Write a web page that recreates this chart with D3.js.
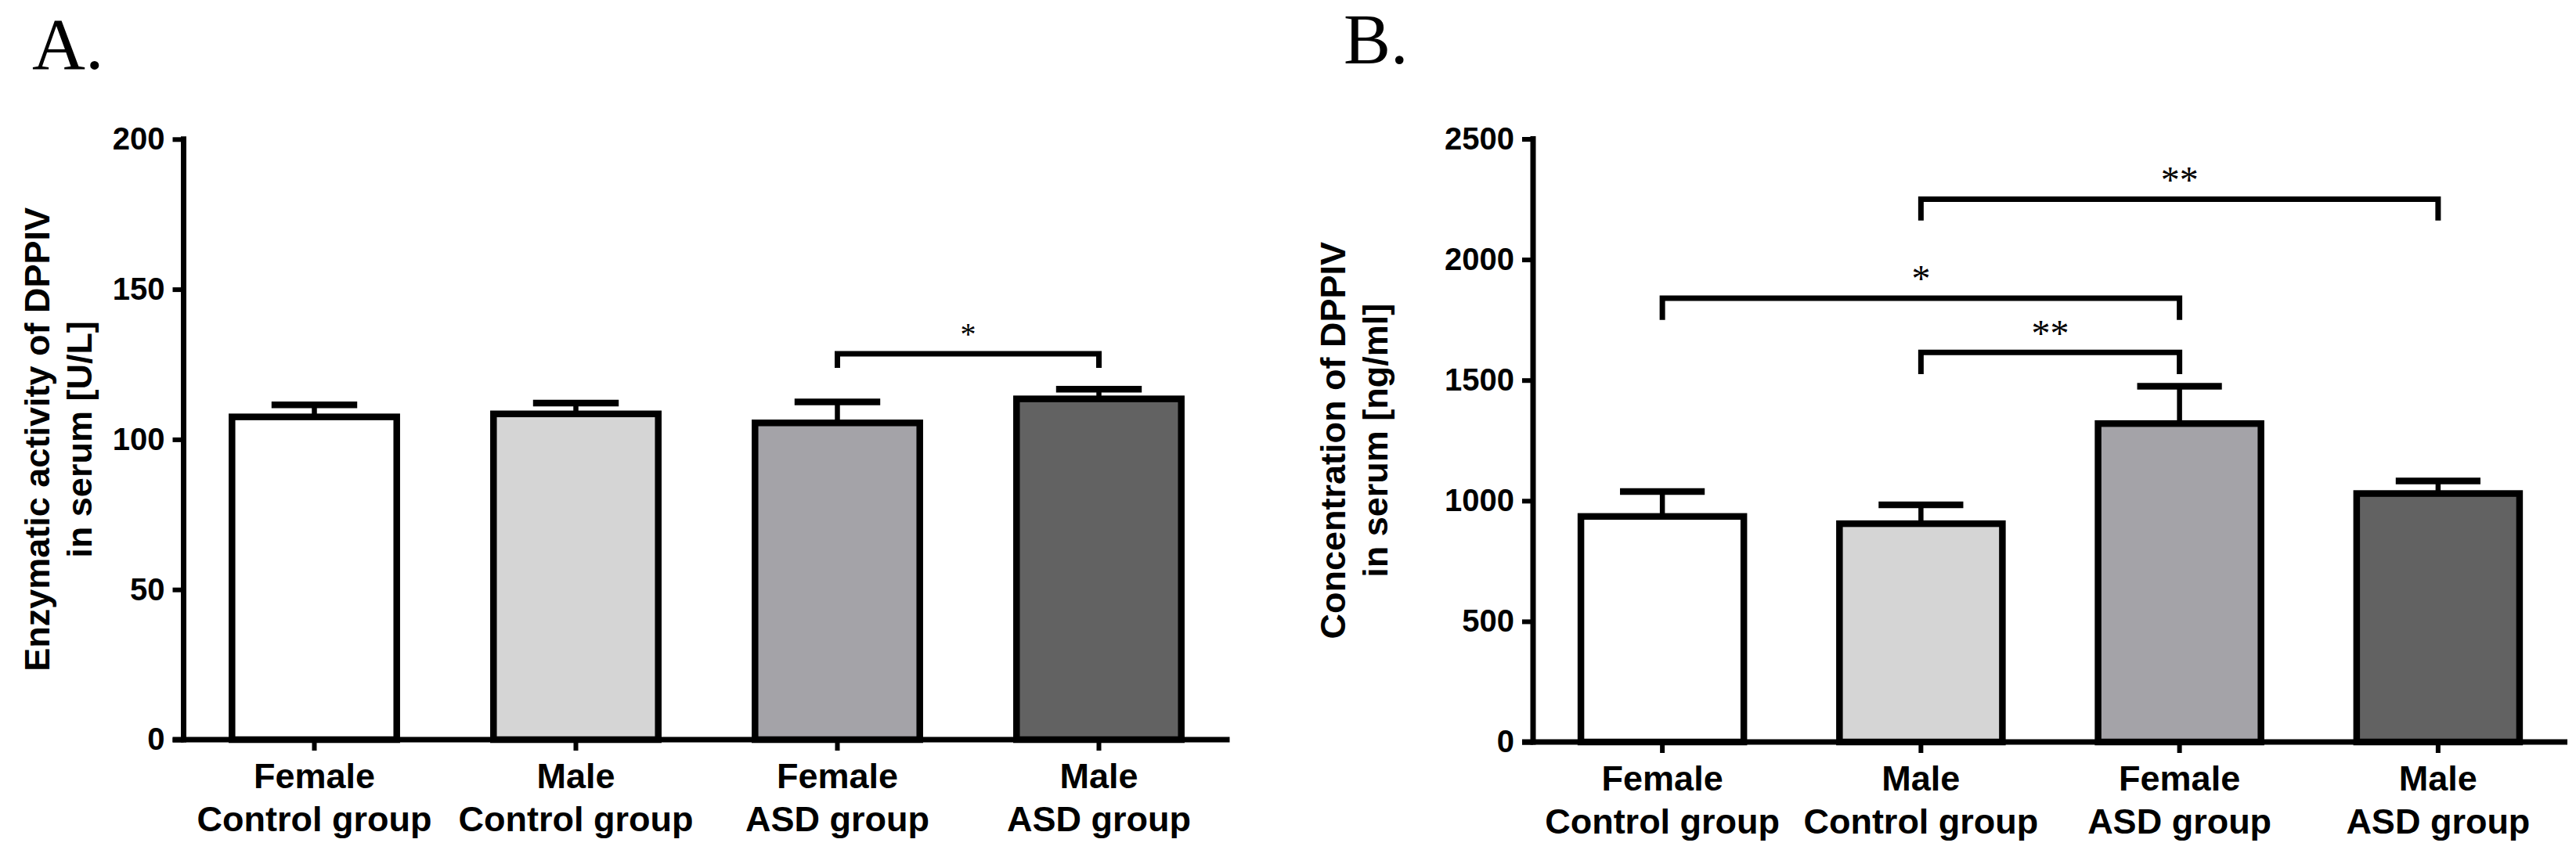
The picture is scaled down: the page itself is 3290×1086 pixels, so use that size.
<!DOCTYPE html>
<html>
<head>
<meta charset="utf-8">
<script src="https://cdn.jsdelivr.net/npm/d3@7/dist/d3.min.js"></script>
<style>
  html, body { margin: 0; padding: 0; background: #fff; }
  svg { display: block; }
</style>
</head>
<body>
<svg id="chart" width="3290" height="1086"></svg>
<script>
// ---------------- data ----------------
const categoryLine1 = ["Female", "Male", "Female", "Male"];
const categoryLine2 = ["Control group", "Control group", "ASD group", "ASD group"];

// Panel A: enzymatic activity (U/L)
const activityMean = [107.5, 108.5, 105.5, 113.5];
const activitySem  = [4.0, 3.6, 7.0, 3.2];
const activityTicks = [0, 50, 100, 150, 200];
const activityBrackets = [
  { from: 2, to: 3, level: 128.5, tip: 123.8, label: "*" }
];

// Panel B: concentration (ng/ml)
const concentrationMean = [935, 905, 1320, 1030];
const concentrationSem  = [103, 78, 155, 52];
const concentrationTicks = [0, 500, 1000, 1500, 2000, 2500];
const concentrationBrackets = [
  { from: 1, to: 3, level: 2250, tip: 2162, label: "**" },
  { from: 0, to: 2, level: 1840, tip: 1750, label: "*" },
  { from: 1, to: 2, level: 1615, tip: 1525, label: "**" }
];

const barFill = ["#ffffff", "#d5d5d5", "#a4a3a8", "#626262"];

// ---------------- drawing ----------------
const svg = d3.select("#chart");
const SANS = "'Liberation Sans', Arial, Helvetica, sans-serif";
const SERIF = "'Liberation Serif', 'Times New Roman', serif";

function drawPanel(cfg) {
  const g = svg.append("g");
  const n = categoryLine1.length;

  const x = d3.scaleBand()
    .domain(d3.range(n))
    .range(cfg.xRange)
    .paddingInner(0.37)
    .paddingOuter(0.185);

  const y = d3.scaleLinear()
    .domain([cfg.ticks[0], cfg.ticks[cfg.ticks.length - 1]])
    .range(cfg.yRange);

  const tickLen = 14;
  const axisW = 7;

  // bars
  g.selectAll("rect.bar")
    .data(cfg.mean)
    .join("rect")
    .attr("class", "bar")
    .attr("x", (d, i) => x(i))
    .attr("width", x.bandwidth())
    .attr("y", d => y(d))
    .attr("height", d => y(0) - y(d))
    .attr("fill", (d, i) => barFill[i])
    .attr("stroke", "#000")
    .attr("stroke-width", 8.5);

  // error bars (upper only)
  const capW = x.bandwidth() * 0.52;
  cfg.mean.forEach((m, i) => {
    const cx = x(i) + x.bandwidth() / 2;
    g.append("line")
      .attr("x1", cx).attr("x2", cx)
      .attr("y1", y(m)).attr("y2", y(m + cfg.sem[i]))
      .attr("stroke", "#000").attr("stroke-width", 6.5);
    g.append("line")
      .attr("x1", cx - capW / 2).attr("x2", cx + capW / 2)
      .attr("y1", y(m + cfg.sem[i])).attr("y2", y(m + cfg.sem[i]))
      .attr("stroke", "#000").attr("stroke-width", 8.5);
  });

  // y axis
  const yAxis = d3.axisLeft(y)
    .tickValues(cfg.ticks)
    .tickSize(tickLen)
    .tickSizeOuter(0)
    .tickPadding(10)
    .tickFormat(d3.format("d"));
  const ya = g.append("g")
    .attr("transform", `translate(${cfg.xRange[0]},0)`)
    .call(yAxis);
  ya.select(".domain").attr("stroke", "#000").attr("stroke-width", axisW)
    .attr("d", `M0,${y(0) + axisW / 2}V${y(cfg.ticks[cfg.ticks.length - 1]) - axisW / 2}`);
  ya.selectAll(".tick line").attr("stroke", "#000").attr("stroke-width", 6);
  ya.selectAll(".tick text")
    .attr("fill", "#000")
    .style("font-family", SANS)
    .style("font-weight", "bold")
    .style("font-size", "40px");

  // x axis
  const xAxis = d3.axisBottom(x)
    .tickSize(tickLen)
    .tickSizeOuter(0)
    .tickFormat(() => "");
  const xa = g.append("g")
    .attr("transform", `translate(0,${y(0)})`)
    .call(xAxis);
  xa.select(".domain").remove();
  xa.selectAll(".tick line").attr("stroke", "#000").attr("stroke-width", 6);
  g.append("line")
    .attr("x1", cfg.xRange[0] - tickLen).attr("x2", cfg.xRange[1])
    .attr("y1", y(0)).attr("y2", y(0))
    .attr("stroke", "#000").attr("stroke-width", axisW);

  // category labels
  const lab = g.append("g")
    .style("font-family", SANS)
    .style("font-weight", "bold")
    .style("font-size", "45px")
    .attr("text-anchor", "middle")
    .attr("fill", "#000");
  categoryLine1.forEach((t, i) => {
    const cx = x(i) + x.bandwidth() / 2;
    lab.append("text").attr("x", cx).attr("y", y(0) + 62).text(t);
    lab.append("text").attr("x", cx).attr("y", y(0) + 117).text(categoryLine2[i]);
  });

  // y axis title (two lines)
  const cy = (cfg.yRange[0] + cfg.yRange[1]) / 2;
  const tt = g.append("g")
    .style("font-family", SANS)
    .style("font-weight", "bold")
    .style("font-size", "45px")
    .attr("text-anchor", "middle")
    .attr("fill", "#000");
  tt.append("text")
    .attr("transform", `translate(${cfg.titleX[0]},${cy}) rotate(-90)`)
    .text(cfg.title[0]);
  tt.append("text")
    .attr("transform", `translate(${cfg.titleX[1]},${cy}) rotate(-90)`)
    .text(cfg.title[1]);

  // significance brackets
  cfg.brackets.forEach(b => {
    const x1 = x(b.from) + x.bandwidth() / 2;
    const x2 = x(b.to) + x.bandwidth() / 2;
    g.append("path")
      .attr("d", `M${x1},${y(b.tip)}V${y(b.level)}H${x2}V${y(b.tip)}`)
      .attr("fill", "none")
      .attr("stroke", "#000")
      .attr("stroke-width", 7)
      .attr("stroke-linejoin", "miter");
    g.append("text")
      .attr("x", (x1 + x2) / 2)
      .attr("y", y(b.level) - 31 + 0.47 * cfg.starSize)
      .attr("text-anchor", "middle")
      .style("font-family", SERIF)
      .style("font-size", cfg.starSize + "px")
      .attr("fill", "#000")
      .text(b.label);
  });

  // panel letter
  svg.append("text")
    .attr("x", cfg.letterPos[0]).attr("y", cfg.letterPos[1])
    .style("font-family", SERIF)
    .style("font-size", cfg.letterSize + "px")
    .attr("fill", "#000")
    .text(cfg.letter);
}

drawPanel({
  letter: "A.", letterPos: [41, 88], letterSize: 94,
  mean: activityMean, sem: activitySem, ticks: activityTicks,
  brackets: activityBrackets,
  xRange: [234.5, 1570.5], yRange: [945, 177.8],
  title: ["Enzymatic activity of DPPIV", "in serum [U/L]"],
  titleX: [63, 117],
  starSize: 40
});

drawPanel({
  letter: "B.", letterPos: [1716, 81], letterSize: 90,
  mean: concentrationMean, sem: concentrationSem, ticks: concentrationTicks,
  brackets: concentrationBrackets,
  xRange: [1958, 3279], yRange: [948, 177.5],
  title: ["Concentration of DPPIV", "in serum [ng/ml]"],
  titleX: [1718, 1772],
  starSize: 48
});
</script>
</body>
</html>
